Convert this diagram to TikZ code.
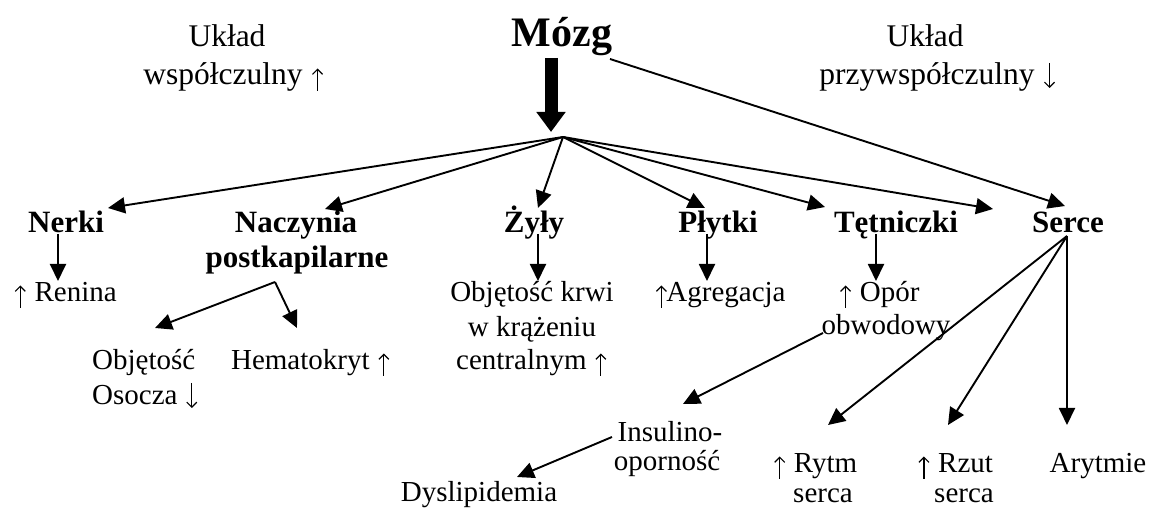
\documentclass[tikz,border=0pt]{standalone}
\usepackage{fontspec}
\setmainfont{Liberation Serif}
\usetikzlibrary{arrows.meta}
% thin text arrows, drawn at the height of the surrounding text
\newcommand{\up}{\tikz[baseline=0pt]{\path (-7pt,0pt) (7pt,0pt);
  \draw[line width=1.2pt,-{Straight Barb[length=5pt,width=10pt]}] (0pt,-6pt) -- (0pt,16.5pt);}}
\newcommand{\down}{\tikz[baseline=0pt]{\path (-7pt,0pt) (7pt,0pt);
  \draw[line width=1.2pt,-{Straight Barb[length=5pt,width=10pt]}] (0pt,22pt) -- (0pt,-3pt);}}
\begin{document}
\begin{tikzpicture}[x=1pt,y=-1pt,
  txt/.style={anchor=base,inner sep=0pt,font=\fontsize{29}{34}\selectfont},
  toptxt/.style={anchor=base,inner sep=0pt,font=\fontsize{31.5}{38}\selectfont},
  organ/.style={anchor=base,inner sep=0pt,font=\bfseries\fontsize{31}{36}\selectfont},
  link/.style={line width=1.9pt,-{Triangle[length=17pt,width=16pt]}}]
\useasboundingbox (0,0) rectangle (1152,510);
\fill[white] (0,0) rectangle (1152,510);

% brain and the two autonomic systems
\node[anchor=base,inner sep=0pt,font=\bfseries\fontsize{42}{48}\selectfont] (mozg) at (562,47) {Mózg};
\node[toptxt] (uk1) at (227,47) {Układ};
\node[toptxt] (wsp) at (234,85) {współczulny \up};
\node[toptxt] (uk2) at (925,47) {Układ};
\node[toptxt] (przyw) at (938,85) {przywspółczulny \down};

% target organs
\node[organ] (nerki) at (66,233) {Nerki};
\node[organ] (nacz1) at (296,233) {Naczynia};
\node[organ] (nacz2) at (297,268) {postkapilarne};
\node[organ] (zyly) at (534,233) {Żyły};
\node[organ] (plytki) at (718,233) {Płytki};
\node[organ] (tet) at (896,233) {Tętniczki};
\node[organ] (serce) at (1068,233) {Serce};

% effects
\node[txt] (renina) at (65,302) {\up{} Renina};
\node[txt] (obj1) at (92,370) [anchor=base west] {Objętość};
\node[txt] (obj2) at (92,405) [anchor=base west] {Osocza \down};
\node[txt] (hemat) at (311,370) {Hematokryt \up};
\node[txt] (krew1) at (532,302) {Objętość krwi};
\node[txt] (krew2) at (532,337) {w krążeniu};
\node[txt] (krew3) at (532,370) {centralnym \up};
\node[txt] (agreg) at (720,302) {\up\kern-2pt Agregacja};
\node[txt] (opor1) at (879,302) {\up{} Opór};
\node[txt] (opor2) at (886,335) {obwodowy};
\node[txt] (ins1) at (670,442) {Insulino-};
\node[txt] (ins2) at (667,471) {oporność};
\node[txt] (dys) at (479,502) {Dyslipidemia};
\node[txt] (rytm1) at (815,473) {\up{} Rytm};
\node[txt] (rytm2) at (823,503) {serca};
\node[txt] (rzut1) at (955,473) {\up{} Rzut};
\node[txt] (rzut2) at (964,503) {serca};
\node[txt] (aryt) at (1098,473) {Arytmie};

% connector ends
\coordinate (hub) at (563,137);
\coordinate (mzTop) at (551,58);
\coordinate (mzTip) at (551,132);
\coordinate (mzR) at (610,59);
\coordinate (tNerki) at (108,208);
\coordinate (tNacz) at (325,209);
\coordinate (tZyly) at (538,208);
\coordinate (tPlyt) at (705,208);
\coordinate (tTet) at (825,207);
\coordinate (tSer2) at (993,209);
\coordinate (tSerce) at (1065,206);
\coordinate (nerkiD) at (58,234);
\coordinate (reninaT) at (58,281);
\coordinate (fork) at (275,282);
\coordinate (objT) at (155,328);
\coordinate (hemT) at (297,328);
\coordinate (zylyD) at (538,234);
\coordinate (krewT) at (538,281);
\coordinate (plytD) at (707,234);
\coordinate (agrT) at (707,281);
\coordinate (tetD) at (876,234);
\coordinate (oporT) at (876,281);
\coordinate (oporL) at (823,333);
\coordinate (insT) at (683,404);
\coordinate (insL) at (612,437);
\coordinate (dysT) at (517,477);
\coordinate (serD) at (1067,236);
\coordinate (rytmT) at (828,425);
\coordinate (rzutT) at (948,425);
\coordinate (arytT) at (1067,425);

% thick arrow below the brain
\draw[line width=13pt,-{Triangle[length=20pt,width=28pt]}] (mzTop) -- (mzTip);

% fan from the hub
\foreach \t in {tNerki,tNacz,tZyly,tPlyt,tTet,tSer2}
  \draw[link] (hub) -- (\t);
\draw[link] (mzR) -- (tSerce);

% downstream effects
\draw[link] (nerkiD) -- (reninaT);
\draw[link] (fork) -- (objT);
\draw[link] (fork) -- (hemT);
\draw[link] (zylyD) -- (krewT);
\draw[link] (plytD) -- (agrT);
\draw[link] (tetD) -- (oporT);
\draw[link] (oporL) -- (insT);
\draw[link] (insL) -- (dysT);
\draw[link] (serD) -- (rytmT);
\draw[link] (serD) -- (rzutT);
\draw[link] (serD) -- (arytT);
\end{tikzpicture}
\end{document}
